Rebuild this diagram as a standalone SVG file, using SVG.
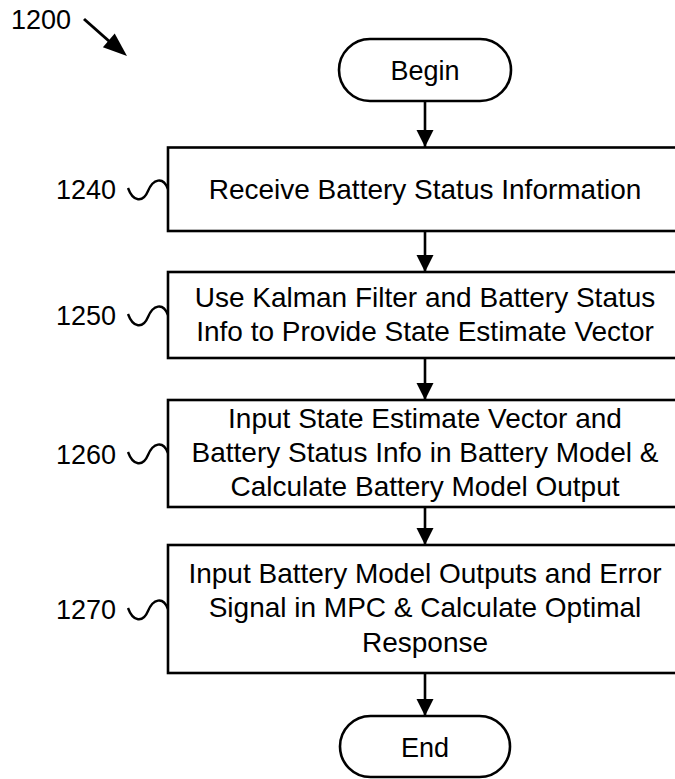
<svg xmlns="http://www.w3.org/2000/svg" width="675" height="779" viewBox="0 0 675 779">
<defs>
<style>
.t{font-family:"Liberation Sans",Arial,sans-serif;font-size:28px;fill:#000;text-anchor:middle}
.l{font-family:"Liberation Sans",Arial,sans-serif;font-size:27px;fill:#000;text-anchor:end}
.b{fill:#fff;stroke:#000;stroke-width:2.6}
.c{stroke:#000;stroke-width:2.6;fill:none}
.s{stroke:#000;stroke-width:2.4;fill:none}
</style>
<marker id="ah" markerUnits="userSpaceOnUse" markerWidth="18" markerHeight="18" refX="17" refY="8.5" orient="auto" viewBox="0 0 18 17">
<path d="M0,0 L17,8.5 L0,17 Z" fill="#000"/>
</marker>
</defs>
<rect width="675" height="779" fill="#fff"/>
<g id="label-1200">
<text x="11" y="29" class="l" style="text-anchor:start">1200</text>
<line x1="84" y1="19" x2="110" y2="42" stroke="#000" stroke-width="3"/>
<polygon points="127,56 102.9,47.2 114.7,33.6" fill="#000"/>
</g>
<g id="connectors">
<line class="c" x1="425" y1="101" x2="425" y2="147" marker-end="url(#ah)"/>
<line class="c" x1="425" y1="231" x2="425" y2="272" marker-end="url(#ah)"/>
<line class="c" x1="425" y1="358" x2="425" y2="400" marker-end="url(#ah)"/>
<line class="c" x1="425" y1="507" x2="425" y2="545" marker-end="url(#ah)"/>
<line class="c" x1="425" y1="673" x2="425" y2="716" marker-end="url(#ah)"/>
</g>
<g id="begin">
<rect class="b" x="339" y="39" width="172" height="62" rx="31" ry="31"/>
<text class="t" x="425" y="80" style="font-size:27px">Begin</text>
</g>
<g id="step-1240">
<rect class="b" x="168" y="147.5" width="514" height="83.5"/>
<text class="t" x="425" y="199">Receive Battery Status Information</text>
<text class="l" x="116" y="199">1240</text>
<path class="s" d="M128,188 C133,202 143,203 148,191 C153,179 163,176 168,189"/>
</g>
<g id="step-1250">
<rect class="b" x="168" y="272" width="514" height="86"/>
<text class="t" x="425" y="307">Use Kalman Filter and Battery Status</text>
<text class="t" x="425" y="341">Info to Provide State Estimate Vector</text>
<text class="l" x="116" y="325">1250</text>
<path class="s" d="M128,314 C133,328 143,329 148,317 C153,305 163,302 168,315"/>
</g>
<g id="step-1260">
<rect class="b" x="168" y="400" width="514" height="107"/>
<text class="t" x="425" y="428">Input State Estimate Vector and</text>
<text class="t" x="425" y="462">Battery Status Info in Battery Model &amp;</text>
<text class="t" x="425" y="496">Calculate Battery Model Output</text>
<text class="l" x="116" y="464">1260</text>
<path class="s" d="M128,452 C133,466 143,467 148,455 C153,443 163,440 168,453"/>
</g>
<g id="step-1270">
<rect class="b" x="168" y="545" width="514" height="128"/>
<text class="t" x="425" y="583">Input Battery Model Outputs and Error</text>
<text class="t" x="425" y="617">Signal in MPC &amp; Calculate Optimal</text>
<text class="t" x="425" y="652">Response</text>
<text class="l" x="116" y="619">1270</text>
<path class="s" d="M128,608 C133,622 143,623 148,611 C153,599 163,596 168,609"/>
</g>
<g id="end">
<rect class="b" x="340" y="716" width="170" height="61" rx="30.5" ry="30.5"/>
<text class="t" x="425" y="757" style="font-size:27px">End</text>
</g>
</svg>
